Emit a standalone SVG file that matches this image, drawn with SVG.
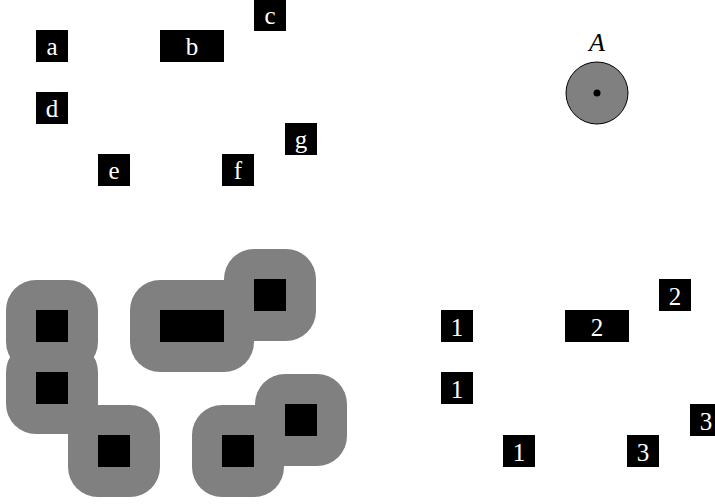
<svg xmlns="http://www.w3.org/2000/svg" width="715" height="504" viewBox="0 0 715 504">
<style>
.box{fill:#000}
.halo{fill:#808080}
.lbl{font-family:"Liberation Serif","Times New Roman","DejaVu Serif",serif;font-size:25px;fill:#fff;text-anchor:middle}
.ttl{font-family:"Liberation Serif","Times New Roman","DejaVu Serif",serif;font-size:26px;font-style:italic;fill:#000;text-anchor:middle}
</style>
<rect width="715" height="504" fill="#fff"/>
<g id="connectors"></g>
<g id="node-a"><rect class="box" x="36" y="30" width="32" height="32"/><text class="lbl" x="52" y="54.5">a</text></g>
<g id="node-b"><rect class="box" x="160" y="30" width="64" height="32"/><text class="lbl" x="192" y="54.5">b</text></g>
<g id="node-c"><rect class="box" x="254" y="-1" width="32" height="32"/><text class="lbl" x="270" y="23.5">c</text></g>
<g id="node-d"><rect class="box" x="36" y="92" width="32" height="32"/><text class="lbl" x="52" y="116.5">d</text></g>
<g id="node-e"><rect class="box" x="98" y="154" width="32" height="32"/><text class="lbl" x="114" y="178.5">e</text></g>
<g id="node-f"><rect class="box" x="222" y="154" width="32" height="32"/><text class="lbl" x="238" y="178.5">f</text></g>
<g id="node-g"><rect class="box" x="285" y="123" width="32" height="32"/><text class="lbl" x="301" y="147.5">g</text></g>
<g id="node-A">
<text class="ttl" x="597" y="51">A</text>
<circle cx="597" cy="93" r="31" fill="#808080" stroke="#000" stroke-width="1"/>
<circle cx="597" cy="93" r="3.5" fill="#000"/>
</g>
<g id="halo-a"><rect class="halo" x="6" y="280" width="92" height="92" rx="30"/><rect class="box" x="36" y="310" width="32" height="32"/></g>
<g id="halo-d"><rect class="halo" x="6" y="342" width="92" height="92" rx="30"/><rect class="box" x="36" y="372" width="32" height="32"/></g>
<g id="halo-e"><rect class="halo" x="68" y="405" width="92" height="92" rx="30"/><rect class="box" x="98" y="435" width="32" height="32"/></g>
<g id="halo-b"><rect class="halo" x="130" y="280" width="124" height="92" rx="30"/><rect class="box" x="160" y="310" width="64" height="32"/></g>
<g id="halo-c"><rect class="halo" x="224" y="249" width="92" height="92" rx="30"/><rect class="box" x="254" y="279" width="32" height="32"/></g>
<g id="halo-f"><rect class="halo" x="192" y="405" width="92" height="92" rx="30"/><rect class="box" x="222" y="435" width="32" height="32"/></g>
<g id="halo-g"><rect class="halo" x="255" y="374" width="92" height="92" rx="30"/><rect class="box" x="285" y="404" width="32" height="32"/></g>
<g id="halo-boxes">
<rect class="box" x="36" y="310" width="32" height="32"/>
<rect class="box" x="36" y="372" width="32" height="32"/>
<rect class="box" x="160" y="310" width="64" height="32"/>
<rect class="box" x="254" y="279" width="32" height="32"/>
<rect class="box" x="222" y="435" width="32" height="32"/>
</g>
<g id="node-1a"><rect class="box" x="441" y="310" width="32" height="32"/><text class="lbl" x="457" y="335.5">1</text></g>
<g id="node-2b"><rect class="box" x="565" y="310" width="64" height="32"/><text class="lbl" x="597" y="335.5">2</text></g>
<g id="node-2c"><rect class="box" x="659" y="279" width="32" height="32"/><text class="lbl" x="675" y="304.5">2</text></g>
<g id="node-1d"><rect class="box" x="441" y="372" width="32" height="32"/><text class="lbl" x="457" y="397.5">1</text></g>
<g id="node-1e"><rect class="box" x="503" y="435" width="32" height="32"/><text class="lbl" x="519" y="460.5">1</text></g>
<g id="node-3f"><rect class="box" x="627" y="435" width="32" height="32"/><text class="lbl" x="643" y="460.5">3</text></g>
<g id="node-3g"><rect class="box" x="690" y="404" width="32" height="32"/><text class="lbl" x="706" y="429.5">3</text></g>
</svg>
